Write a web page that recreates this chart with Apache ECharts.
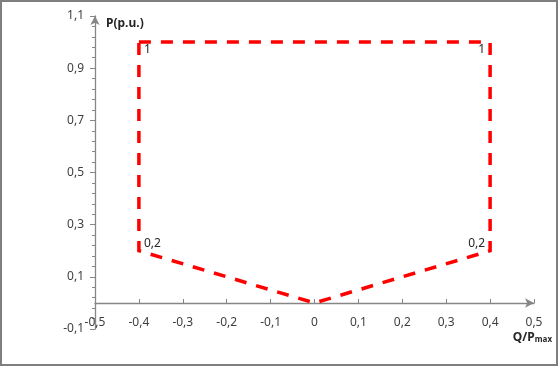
<!DOCTYPE html>
<html>
<head>
<meta charset="utf-8">
<script src="https://cdn.jsdelivr.net/npm/echarts@6/dist/echarts.min.js"></script>
<style>html,body{margin:0;padding:0;background:#fff;}#c{width:558px;height:366px;}</style>
</head>
<body>
<div id="c"></div>
<script>
// Data
var qValues = [-0.4, 0.4, 0.4, 0, -0.4, -0.4];
var pValues = [1, 1, 0.2, 0, 0.2, 1];
var pointLabels = ['1', '1', '0,2', '', '0,2', ''];
var labelSides = ['right-down', 'left-down', 'left-up', 'none', 'right-up', 'none'];
var xTitle = 'Q/P';
var xTitleSub = 'max';
var yTitle = 'P(p.u.)';

function fmt(v) {
  var r = Math.round(v * 10) / 10;
  return String(r).replace('.', ',');
}

var data = qValues.map(function (q, i) {
  var side = labelSides[i];
  var item = { value: [q, pValues[i]] };
  if (side === 'none') {
    item.label = { show: false };
  } else {
    var left = side.indexOf('left') === 0;
    var up = side.indexOf('up') > 0;
    item.label = {
      show: true,
      formatter: pointLabels[i],
      position: left ? 'left' : 'right',
      distance: 4,
      offset: [0, up ? -7 : 7]
    };
  }
  return item;
});

var axisColor = '#868686';
var labelColor = '#404040';
var chart = echarts.init(document.getElementById('c'));
chart.setOption({
  animation: false,
  grid: { left: 95, right: 24, top: 16, bottom: 37 },
  xAxis: {
    type: 'value', min: -0.5, max: 0.5, interval: 0.1,
    offset: -26,
    splitLine: { show: false },
    axisLine: { show: true, onZero: false, symbol: ['none', 'arrow'], symbolSize: [7, 9],
      lineStyle: { color: axisColor, width: 1.3 } },
    axisTick: { show: true, inside: true, length: 4, lineStyle: { color: axisColor } },
    axisLabel: { formatter: fmt, margin: 14, color: labelColor, fontFamily: 'Noto Sans', fontSize: 12,
      showMinLabel: true, showMaxLabel: true }
  },
  yAxis: {
    type: 'value', min: -0.1, max: 1.1, interval: 0.2,
    splitLine: { show: false },
    axisLine: { show: true, onZero: false, symbol: ['none', 'arrow'], symbolSize: [7, 9],
      lineStyle: { color: axisColor, width: 1.3 } },
    axisTick: { show: true, length: 5, lineStyle: { color: axisColor } },
    minorTick: { show: true, splitNumber: 5, length: 3, lineStyle: { color: axisColor } },
    axisLabel: { formatter: fmt, margin: 11, color: labelColor, fontFamily: 'Noto Sans', fontSize: 12,
      showMinLabel: true, showMaxLabel: true }
  },
  series: [{
    type: 'line',
    data: data,
    symbol: 'circle',
    symbolSize: 2,
    showSymbol: true,
    itemStyle: { color: 'rgba(0,0,0,0)', borderWidth: 0 },
    lineStyle: { color: '#ff0000', width: 3.5, type: [12, 10], cap: 'butt', join: 'miter' },
    label: { color: '#262626', fontFamily: 'Noto Sans', fontSize: 12 },
    emphasis: { disabled: true },
    z: 3
  }],
  graphic: [
    { type: 'rect', shape: { x: 1, y: 1, width: 556, height: 364 },
      style: { fill: 'none', stroke: '#7f7f7f', lineWidth: 2 }, silent: true },
    { type: 'text', left: 106, top: 18,
      style: { text: yTitle, fill: '#262626', font: 'bold 12px "Noto Sans"' } },
    { type: 'text', right: 6, top: 332,
      style: { text: '{a|' + xTitle + '}{b|' + xTitleSub + '}',
        rich: {
          a: { fill: '#262626', font: 'bold 12px "Noto Sans"', verticalAlign: 'bottom' },
          b: { fill: '#262626', font: 'bold 8px "Noto Sans"', padding: [6, 0, 0, 0] }
        } } }
  ]
});
</script>
</body>
</html>
